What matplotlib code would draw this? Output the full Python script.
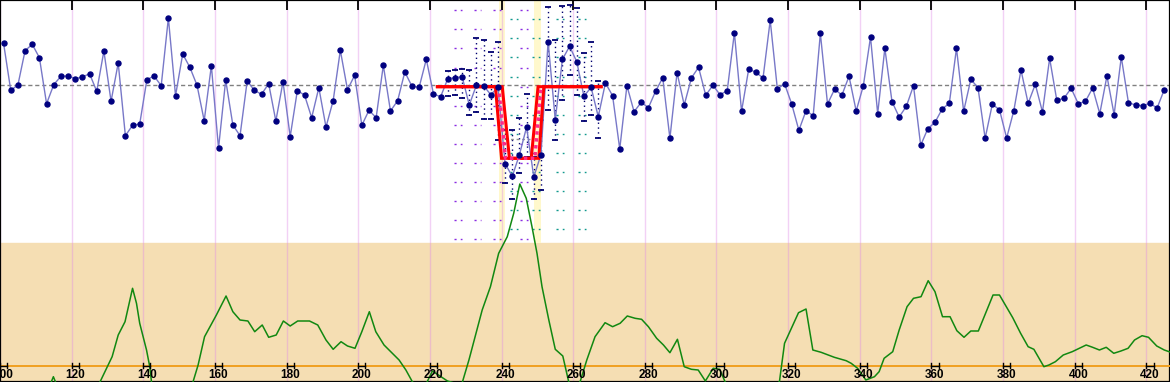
import numpy as np
import matplotlib
matplotlib.use("Agg")
import matplotlib.pyplot as plt

# observed series, one point every 2 units starting at 101
values = [
    4.2, -0.5, 0.03, 3.46, 4.1, 2.76, -1.84, 0.06, 0.9, 0.93,
    0.66, 0.83, 1.16, -0.6, 3.43, -1.6, 2.23, -5.04, -4.0, -3.87,
    0.56, 0.93, -0.04, 6.73, -1.04, 3.13, 1.8, 0.0, -3.54, 1.96,
    -6.3, 0.53, -3.97, -5.04, 0.43, -0.5, -0.9, 0.16, -3.57, 0.36,
    -5.14, -0.54, -0.97, -3.24, -0.24, -4.17, -1.54, 3.5, -0.44, 1.0,
    -4.0, -2.5, -3.24, 2.0, -2.57, -1.54, 1.33, -0.1, -0.2, 2.6,
    -0.87, -1.14, 0.66, 0.76, 0.86, -1.97, 0.03, -0.04, -0.94, -0.2,
    -7.84, -9.1, -6.94, -4.17, -9.17, -6.94, 4.36, -3.44, 2.6, 3.9,
    2.36, -1.1, -0.2, -3.14, 0.23, -1.04, -6.37, -0.04, -2.64, -1.7,
    -2.24, -0.6, 0.76, -5.3, 1.26, -1.97, 0.73, 1.8, -1.0, 0.0,
    -0.94, -0.54, 5.26, -2.6, 1.63, 1.3, 0.73, 6.5, -0.37, 0.16,
    -1.87, -4.5, -2.54, -3.04, 5.2, -1.87, -0.37, -1.0, 0.9, -2.57,
    -0.04, 4.83, -2.84, 3.7, -1.64, -3.17, -2.1, -0.04, -6.0, -4.34,
    -3.7, -2.37, -1.8, 3.7, -2.6, 0.6, -0.24, -5.3, -1.9, -2.44,
    -5.27, -2.54, 1.53, -1.8, 0.1, -2.67, 2.7, -1.5, -1.3, -0.3,
    -1.84, -1.6, -0.27, -2.84, 0.93, -2.94, 2.83, -1.74, -1.97, -2.04,
    -1.8, -2.27, -0.44,
]
positions = np.arange(101, 101 + 2 * len(values), 2)

# green curve in the lower panel
green_x = [
    101.6, 113.2, 114.9, 116.6, 126.6, 129.3, 131.3, 133.0, 134.9, 137.0,
    138.1, 139.0, 140.9, 141.8, 142.7, 152.8, 155.3, 157.1, 160.4, 163.1,
    165.0, 167.0, 169.2, 171.1, 173.2, 175.0, 177.1, 179.1, 181.0, 183.1,
    186.4, 188.7, 191.0, 193.0, 195.2, 197.0, 199.1, 201.0, 203.1, 204.9,
    207.2, 209.5, 211.4, 213.3, 215.1, 217.9, 220.7, 224.9, 226.8, 229.0,
    230.9, 234.6, 236.9, 239.2, 241.6, 243.4, 245.1, 246.9, 248.5, 249.9,
    251.3, 253.2, 255.0, 257.1, 258.7, 260.2, 262.0, 263.8, 266.1, 268.9,
    271.0, 273.1, 275.1, 277.3, 279.1, 281.0, 283.3, 285.2, 287.0, 289.1,
    291.0, 293.0, 294.9, 296.9, 299.1, 300.9, 302.3, 304.2, 315.9, 317.6,
    319.0, 320.9, 322.9, 325.0, 326.9, 329.2, 332.9, 336.2, 337.6, 339.4,
    341.7, 344.1, 345.4, 346.8, 349.2, 351.0, 353.2, 355.0, 357.1, 359.1,
    361.0, 363.1, 365.2, 367.1, 369.1, 371.0, 373.1, 375.1, 377.2, 379.0,
    380.9, 382.7, 384.9, 387.0, 388.6, 391.4, 392.8, 394.6, 396.8, 399.3,
    403.2, 405.0, 406.9, 408.8, 410.9, 412.9, 414.9, 416.7, 418.8, 420.6,
    422.9, 425.0, 426.6,
]
green_y = [
    -2.6, -2.6, -1.1, -2.6, -2.6, -0.6, 0.9, 3.07, 4.4, 7.74,
    6.24, 4.24, 1.57, -0.1, -2.9, -2.9, 0.07, 2.9, 5.07, 6.97,
    5.4, 4.57, 4.47, 3.4, 4.07, 2.84, 3.07, 4.47, 3.97, 4.47,
    4.47, 4.07, 2.57, 1.64, 2.4, 1.97, 1.74, 3.4, 5.4, 3.4,
    2.07, 1.24, 0.57, -0.43, -1.6, -2.6, -0.53, -1.53, -1.73, -1.73,
    0.57, 5.57, 7.9, 11.24, 12.9, 15.24, 18.17, 16.74, 13.9, 11.24,
    7.9, 4.57, 1.64, 0.97, -1.53, -2.6, -1.53, 0.57, 2.9, 4.3,
    3.9, 4.24, 4.97, 4.74, 4.64, 3.9, 2.74, 2.07, 1.3, 2.64,
    -0.1, -0.36, -0.43, -1.53, -0.26, -0.36, -1.53, -2.6, -2.6, -1.53,
    2.24, 3.74, 5.3, 5.67, 1.57, 1.34, 0.84, 0.5, 0.24, -0.26,
    -1.43, -1.1, -0.6, 0.74, 1.4, 3.57, 5.9, 6.74, 6.9, 8.5,
    7.4, 4.9, 4.9, 3.5, 2.84, 3.47, 3.47, 5.24, 7.07, 7.07,
    5.9, 4.8, 3.24, 1.9, 1.64, -0.1, 0.07, 0.4, 1.07, 1.4,
    2.07, 1.84, 1.57, 1.84, 1.24, 1.47, 1.74, 2.57, 3.0, 2.84,
    1.97, 1.57, 1.37,
]

# step fit around the shift (early / late edges and centre)
red_early_x = [222.1, 238.3, 240.0, 248.3, 250.2, 267.8]
red_late_x = [222.1, 240.2, 242.2, 250.4, 251.8, 267.8]
red_y = [-0.14, -0.14, -7.3, -7.3, -0.14, -0.14]
center_x = [239.2, 241.1, 249.3, 251.0]
center_y = [-0.14, -7.3, -7.3, -0.14]
shift_level = -5.4
shift_span = [241.1, 248.9]
bands = [(239.2, 240.9), (249.0, 251.0)]

# intervals for points near the shift
whisk_x = list(range(225, 268, 2))
whisk_top = [1.43, 1.53, 1.63, 1.53, 4.73, 4.53, 3.33, 4.33, -4.47, -4.47, -3.27,
             -0.87, -7.17, -3.47, 7.83, 4.53, 7.93, 8.03, 7.73, 3.23, 4.33, 0.43]
whisk_bot = [-1.07, -0.97, -1.27, -2.97, -2.67, -3.37, -3.37, -5.47, -9.77, -11.37, -8.77,
             -7.17, -11.37, -10.47, -2.47, -5.47, -1.47, 1.03, -0.97, -3.57, -2.97, -5.27]

purple_cols = [227.8, 233.3, 238.8, 246.3]
purple_rows = [7.53, 5.6, 3.7, 1.76, -0.14, -2.07, -3.97, -5.87, -7.8, -9.64, -11.57, -13.47, -15.4]
teal_cols = [243.5, 249.6, 256.3, 262.4]
teal_rows = [6.6, 4.7, 2.8, 0.86, -1.04, -2.97, -4.9, -6.8, -8.7, -10.57, -12.47, -14.4]

tick_vals = list(range(100, 421, 20))

XMIN, XMAX = 101.0, 426.6
YMIN, YMAX = -29.67, 8.53
PANEL_SPLIT = -15.77

fig = plt.figure(figsize=(11.7, 3.82), dpi=100)
ax = fig.add_axes([0, 0, 1, 1])
ax.set_xlim(XMIN, XMAX)
ax.set_ylim(YMIN, YMAX)
ax.set_yticks([])
ax.set_xticks(tick_vals)
ax.tick_params(axis='x', top=True, bottom=False, direction='in', length=7,
               width=1.3, labeltop=False, labelbottom=False, color='black')
for s in ax.spines.values():
    s.set_color('black')
    s.set_linewidth(1.6)

ax.set_axisbelow(True)
ax.grid(axis='x', color=(0.88, 0.55, 0.9), alpha=0.4, lw=1)

ax.axhspan(YMIN, PANEL_SPLIT, color='wheat', zorder=0.1)
for b0, b1 in bands:
    ax.fill_between([b0, b1], PANEL_SPLIT, YMAX, color='#FFF8CC', lw=0, zorder=0.3)

# dashed marker grid
for cx in purple_cols:
    ax.hlines(purple_rows, cx - 1.1, cx + 1.1, colors='#8A2BE2', lw=1,
              linestyles=(0, (1.5, 3)), zorder=1)
for cx in teal_cols:
    ax.hlines(teal_rows, cx - 1.1, cx + 1.1, colors='#11998E', lw=1,
              linestyles=(0, (1.5, 3)), zorder=1)

# intervals
ax.vlines(whisk_x, whisk_bot, whisk_top, colors='#000070', lw=1,
          linestyles=(0, (1, 2.5)), zorder=2)
ax.plot(whisk_x, whisk_top, ls='none', marker='_', ms=5, mew=1.3, color='#000070', zorder=2)
ax.plot(whisk_x, whisk_bot, ls='none', marker='_', ms=5, mew=1.3, color='#000070', zorder=2)

ax.axhline(0, color='#808080', lw=1, ls=(0, (3, 2)), zorder=2)
ax.hlines(shift_level, shift_span[0], shift_span[1], colors='#909090', lw=1,
          linestyles=(0, (2, 2)), zorder=2)

ax.plot(positions, values, color='#7878C8', lw=1.0, zorder=3)
ax.plot(positions, values, ls='none', marker='o', ms=3.6, color='#00007F', zorder=5)

ax.plot(red_early_x, red_y, color='red', lw=2.2, zorder=4, solid_joinstyle='miter')
ax.plot(red_late_x, red_y, color='red', lw=2.2, zorder=4, solid_joinstyle='miter')
ax.plot(center_x, center_y, color='#FF2A8A', lw=2.5, ls=(0, (1, 1)), zorder=4)

# lower panel on its own scale
ax2 = ax.twinx()
ax2.set_ylim(-1.63, 36.57)
ax2.set_yticks([])
ax2.axis('off')
ax2.axhline(0, color='#F0A020', lw=1.4, zorder=1)
ax2.plot(green_x, green_y, color='#118811', lw=1.1, zorder=2)

for t in tick_vals:
    ax2.plot([t, t + 2], [0, 0], color='black', lw=1, zorder=3)
    ax2.plot([t, t], [-0.25, 0.25], color='black', lw=1, zorder=3)
    ax2.plot([t + 2, t + 2], [-0.25, 0.25], color='black', lw=1, zorder=3)
    ax2.text(t + 1, -0.95, str(t), ha='center', va='center', fontsize=8.5,
             fontweight='bold', family='Liberation Sans', color='black', zorder=4)

fig.savefig('out.png', dpi=100)
